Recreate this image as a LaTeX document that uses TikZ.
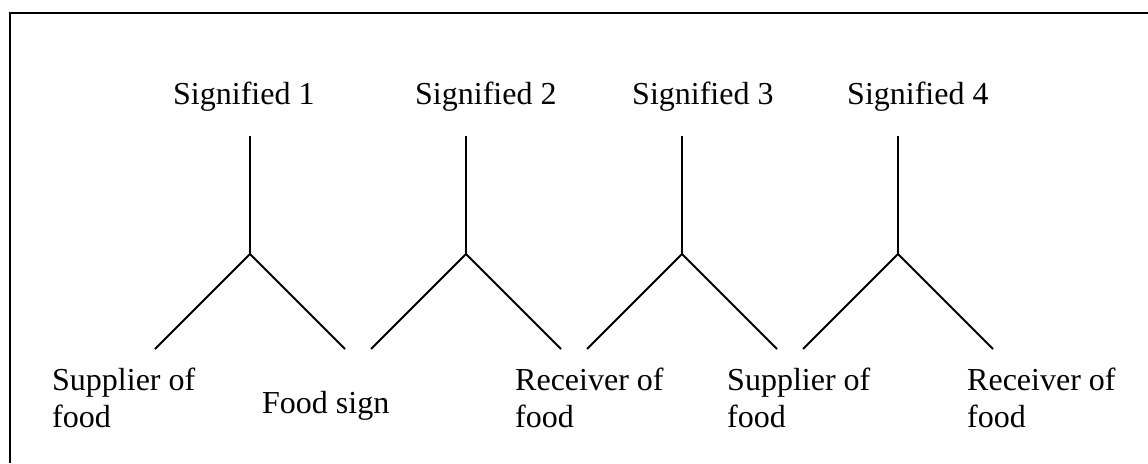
\documentclass[tikz,border=0pt]{standalone}
\usepackage{fontspec}
\setmainfont{Liberation Serif}
\begin{document}
\begin{tikzpicture}[x=1pt,y=-1pt,
  lbl/.style={anchor=base west,inner sep=0pt,font=\fontsize{32}{37}\selectfont,align=left},
  stem/.style={line width=2pt,line cap=butt},
  frame/.style={line width=2.6pt}]
\useasboundingbox (0,0) rectangle (1148,463);
\draw[frame] (10,463) -- (10,13) -- (1148,13);
% top labels
\node[lbl] (s1) at (173,104) {Signified 1};
\node[lbl] (s2) at (415,104) {Signified 2};
\node[lbl] (s3) at (632,104) {Signified 3};
\node[lbl] (s4) at (847,104) {Signified 4};
% bottom labels (base anchor = last line)
\node[lbl] (sup1) at (52,427) {Supplier of\\food};
\node[lbl] (fs) at (262,413) {Food sign};
\node[lbl] (rec1) at (515,427) {Receiver of\\food};
\node[lbl] (sup2) at (727,427) {Supplier of\\food};
\node[lbl] (rec2) at (967,427) {Receiver of\\food};
% trees
\foreach \i/\x in {1/250,2/466,3/682,4/898}{
  \coordinate (t\i) at (\x,136);
  \coordinate (j\i) at (\x,254);
  \coordinate (l\i) at (\x-95,349);
  \coordinate (r\i) at (\x+95,349);
  \draw[stem] (t\i) -- (j\i);
  \draw[stem] (l\i) -- (j\i) -- (r\i);
}
\end{tikzpicture}
\end{document}
